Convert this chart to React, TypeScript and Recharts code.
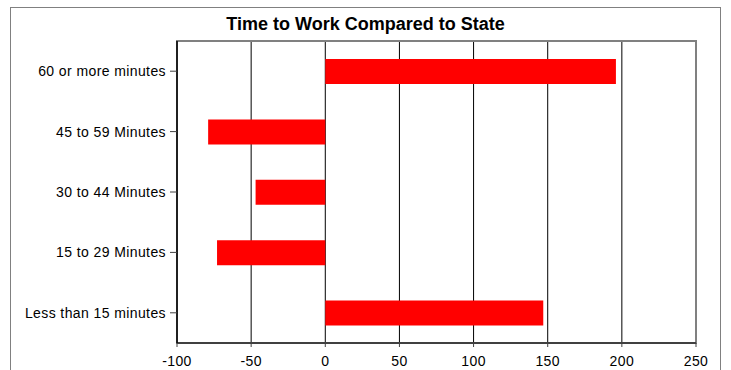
import { Bar, BarChart, CartesianGrid, ReferenceArea, XAxis, YAxis } from "recharts"

const categories = [
  "60 or more minutes",
  "45 to 59 Minutes",
  "30 to 44 Minutes",
  "15 to 29 Minutes",
  "Less than 15 minutes",
]
const values = [196, -79, -47, -73, 147]
const xTicks = [-100, -50, 0, 50, 100, 150, 200, 250]

const data = categories.map((name, i) => ({ name, value: values[i] }))

const font = "'Liberation Sans', Arial, sans-serif"
const tickStyle = { fill: "#000", fontSize: 14, fontFamily: font, letterSpacing: 0.4 }

export default function App() {
  return (
    <div
      style={{
        position: "fixed",
        left: 0,
        top: 0,
        width: 731,
        height: 370,
        background: "#fff",
        overflow: "hidden",
        fontFamily: font,
      }}
    >
      {/* outer chart frame, bottom is cut off in the reference */}
      <div
        style={{
          position: "absolute",
          left: 10,
          top: 7,
          width: 711,
          height: 420,
          border: "1px solid #808080",
          boxSizing: "border-box",
        }}
      />
      <div
        style={{
          position: "absolute",
          left: 0,
          top: 13,
          width: 731,
          lineHeight: "22px",
          textAlign: "center",
          fontWeight: "bold",
          fontSize: 18,
          color: "#000",
        }}
      >
        Time to Work Compared to State
      </div>
      <div style={{ position: "absolute", left: 0, top: 0 }}>
        <BarChart
          width={731}
          height={370}
          data={data}
          layout="vertical"
          margin={{ top: 41, right: 35, bottom: 0, left: 0 }}
          barSize={25}
        >
          <ReferenceArea
            x1={-100}
            x2={250}
            stroke="#808080"
            strokeWidth={2}
            fill="none"
            ifOverflow="visible"
          />
          <CartesianGrid horizontal={false} stroke="#000" strokeWidth={1} />
          <XAxis
            type="number"
            domain={[-100, 250]}
            ticks={xTicks}
            interval={0}
            height={27}
            axisLine={{ stroke: "#404040", strokeWidth: 2 }}
            tickLine={{ stroke: "#404040" }}
            tickSize={4}
            tickMargin={9}
            tick={tickStyle}
          />
          <YAxis
            type="category"
            dataKey="name"
            width={177}
            axisLine={{ stroke: "#000", strokeWidth: 1.5 }}
            tickLine={{ stroke: "#404040" }}
            tickSize={7}
            tickMargin={4}
            tick={tickStyle}
          />
          <Bar dataKey="value" fill="#ff0000" isAnimationActive={false} />
        </BarChart>
      </div>
    </div>
  )
}
